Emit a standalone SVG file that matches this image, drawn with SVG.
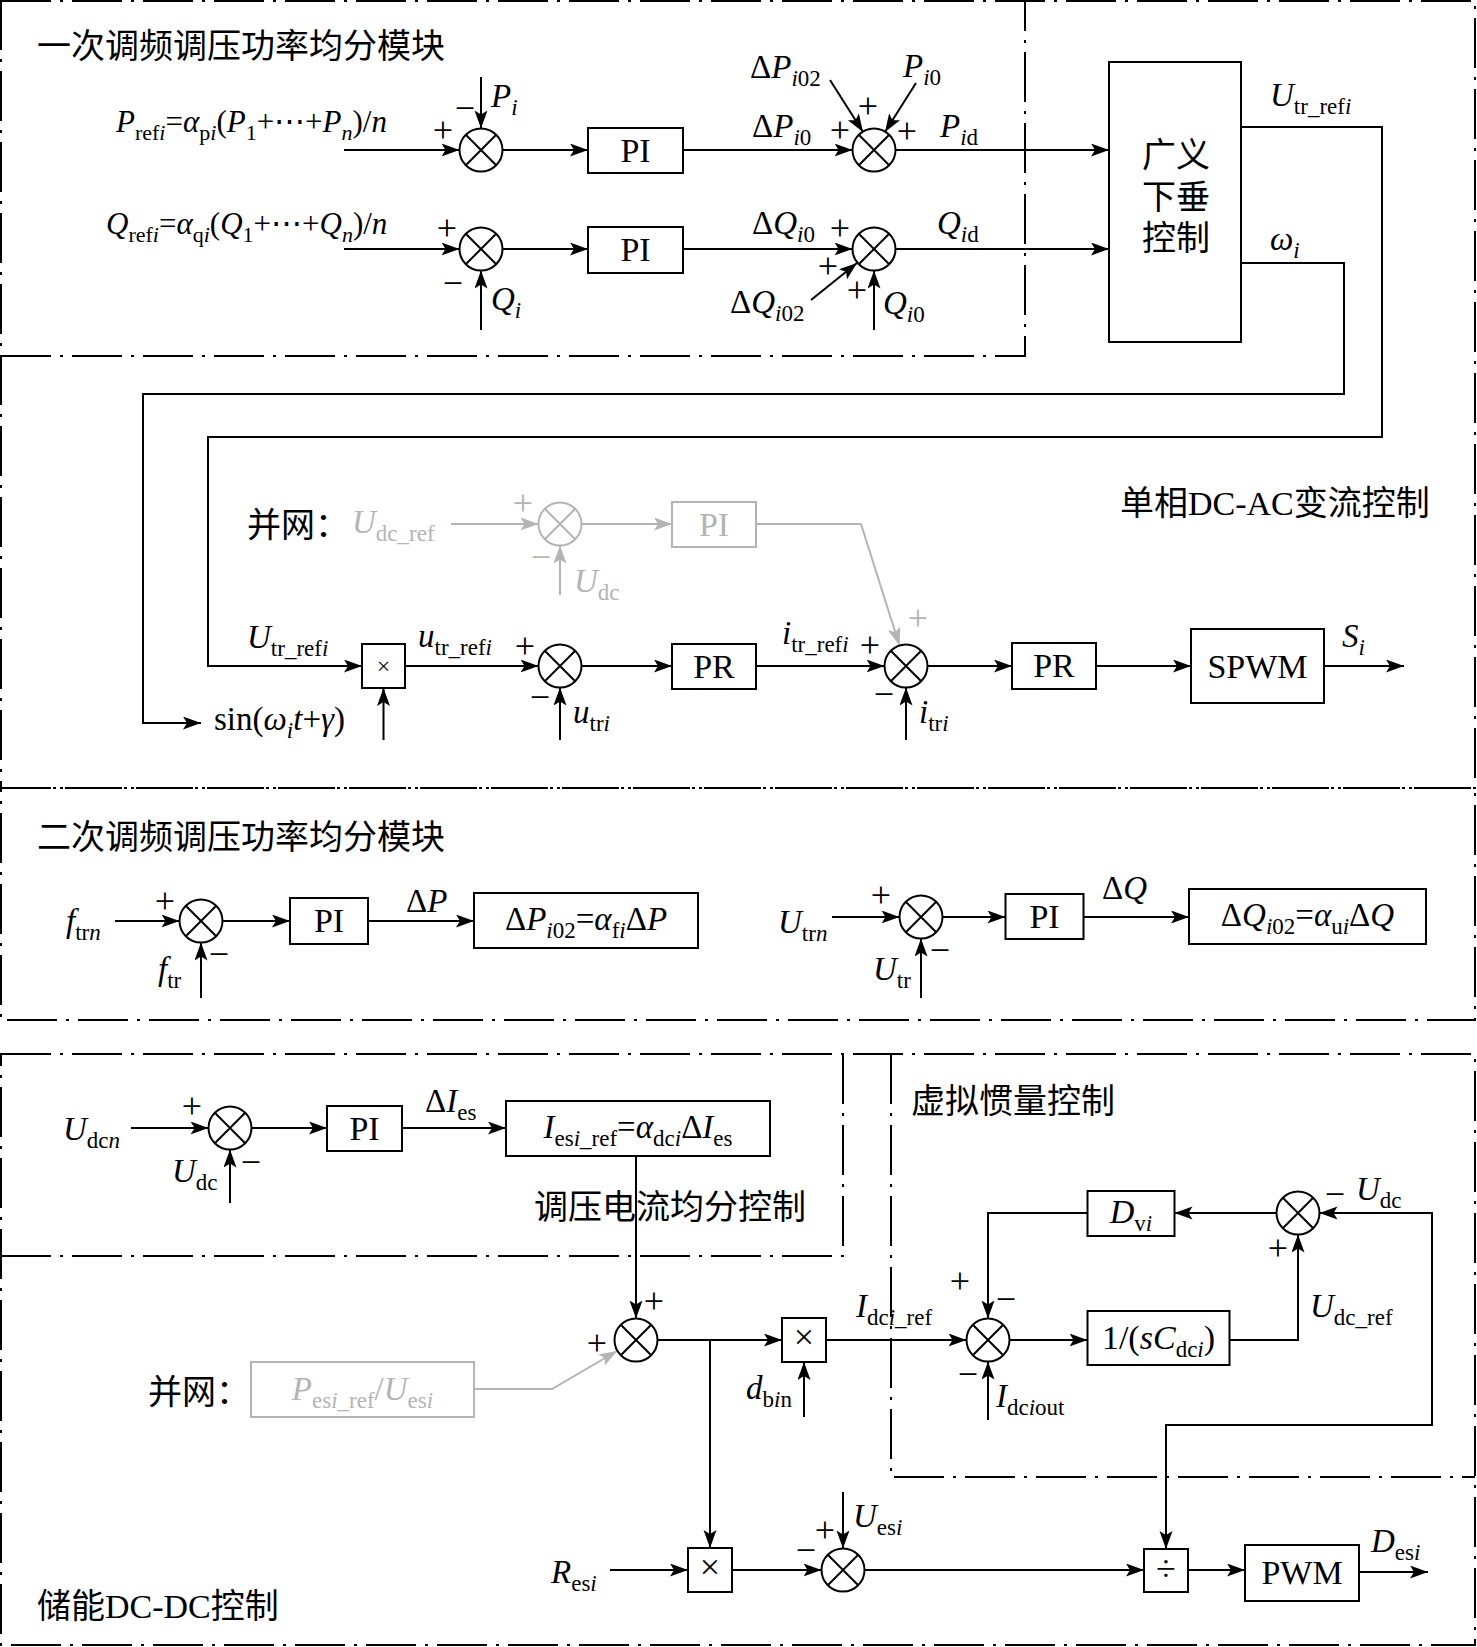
<svg xmlns="http://www.w3.org/2000/svg" width="1477" height="1647" viewBox="0 0 1477 1647">
<style>
.fr{fill:none;stroke:#000;stroke-width:2;stroke-dasharray:50 9 3 9}
.ln{fill:none;stroke:#000;stroke-width:2;marker-end:url(#ah)}
.lg{fill:none;stroke:#b4b4b4;stroke-width:2;marker-end:url(#ahg)}
.bx{fill:#fff;stroke:#000;stroke-width:2}
.bg{fill:#fff;stroke:#b4b4b4;stroke-width:2}
.sjb{stroke:#000;stroke-width:2}
.sjg{stroke:#b4b4b4;stroke-width:2}
text{font-family:"Liberation Serif","DejaVu Serif",serif;font-size:33px;fill:#000}
.cn{font-family:"Noto Sans CJK SC","Noto Sans",sans-serif;font-size:34px}
.lat{font-family:"Liberation Serif",serif}
.bt{font-size:34px;text-anchor:middle}
.eq{font-size:31px}
.i{font-style:italic}
.s{font-size:23px}
.eq .s{font-size:22px}
.sg{font-size:36px;text-anchor:middle}
.g{fill:#b4b4b4}
</style>
<defs>
<marker id="ah" markerWidth="19" markerHeight="14" refX="18" refY="6.5" orient="auto" markerUnits="userSpaceOnUse"><path d="M0,0L18,6.5L0,13L4,6.5z" fill="#000"/></marker>
<marker id="ahg" markerWidth="19" markerHeight="14" refX="18" refY="6.5" orient="auto" markerUnits="userSpaceOnUse"><path d="M0,0L18,6.5L0,13L4,6.5z" fill="#b4b4b4"/></marker>
<marker id="ahr" markerWidth="19" markerHeight="14" refX="18" refY="6.5" orient="auto-start-reverse" markerUnits="userSpaceOnUse"><path d="M0,0L18,6.5L0,13L4,6.5z" fill="#000"/></marker>
<g id="sj"><circle r="21.5" fill="#fff"/><path d="M-15.2,-15.2L15.2,15.2M15.2,-15.2L-15.2,15.2" fill="none"/></g>
</defs>
<rect width="1477" height="1647" fill="#fff"/>

<g id="frames">
<rect class="fr" x="1" y="1" width="1474" height="787"/>
<path class="fr" d="M1,356H1025V1"/>
<rect class="fr" x="1" y="788" width="1474" height="232"/>
<rect class="fr" x="1" y="1054" width="1474" height="591"/>
<path class="fr" d="M1,1256H843V1054"/>
<path class="fr" d="M891,1054V1477H1475"/>
</g>

<g id="connectors">
<path class="ln" d="M344,150H459.5"/>
<path class="ln" d="M481,77V128.5"/>
<path class="ln" d="M502.5,150H588"/>
<path class="ln" d="M683,150H852.5"/>
<path class="ln" d="M830,80L863,132"/>
<path class="ln" d="M916,83L885,132"/>
<path class="ln" d="M895.5,150H1109"/>
<path class="ln" d="M344,249H459.5"/>
<path class="ln" d="M481,330V270.5"/>
<path class="ln" d="M502.5,249H588"/>
<path class="ln" d="M683,249H852.5"/>
<path class="ln" d="M811,300L857,263"/>
<path class="ln" d="M874,330V270.5"/>
<path class="ln" d="M895.5,249H1109"/>
<path class="ln" d="M1241,127H1382V437H208V666H362"/>
<path class="ln" d="M1241,263H1344V394H143V723H201"/>
<path class="ln" d="M383.5,740V688"/>
<path class="ln" d="M405,666H538.5"/>
<path class="ln" d="M560,740V687.5"/>
<path class="ln" d="M581.5,666H672"/>
<path class="ln" d="M756,666H884.5"/>
<path class="ln" d="M906,740V687.5"/>
<path class="ln" d="M927.5,666H1012"/>
<path class="ln" d="M1096,666H1191"/>
<path class="ln" d="M1324,666H1404"/>
<path class="lg" d="M451,524H538.5"/>
<path class="lg" d="M560,595V545.5"/>
<path class="lg" d="M581.5,524H672"/>
<path class="lg" d="M756,524H861L899.5,645.5"/>
<path class="ln" d="M115,921H179.5"/>
<path class="ln" d="M201,998V942.5"/>
<path class="ln" d="M222.5,921H290"/>
<path class="ln" d="M368,921H474"/>
<path class="ln" d="M832,917H899.5"/>
<path class="ln" d="M921,998V938.5"/>
<path class="ln" d="M942.5,917H1005.5"/>
<path class="ln" d="M1083.5,917H1189"/>
<path class="ln" d="M131,1128H208.5"/>
<path class="ln" d="M230,1203V1149.5"/>
<path class="ln" d="M251.5,1128H327"/>
<path class="ln" d="M402,1128H506"/>
<path class="ln" d="M636,1156V1318.5"/>
<path class="lg" d="M474,1389H552L617,1351"/>
<path class="ln" d="M657.5,1340H782"/>
<path class="ln" d="M804,1417V1362"/>
<path class="ln" d="M710,1340V1548"/>
<path class="ln" d="M610,1570H688"/>
<path class="ln" d="M732,1570H821.5"/>
<path class="ln" d="M843,1492V1548.5"/>
<path class="ln" d="M864.5,1570H1144"/>
<path class="ln" d="M1188,1570H1245"/>
<path class="ln" d="M1359,1572H1428"/>
<path class="ln" d="M826,1340H966.5"/>
<path class="ln" d="M988,1420V1361.5"/>
<path class="ln" d="M1009.5,1340H1087.5"/>
<path class="ln" d="M1229.5,1340H1298V1234.5"/>
<path class="ln" d="M1276.5,1213H1174.5"/>
<path class="ln" d="M1087.5,1213H988V1318.5"/>
<path class="ln" d="M1319.5,1213H1432V1425H1166V1549" style="marker-start:url(#ahr);marker-end:url(#ahr)"/>
</g>

<g id="sum1"><use href="#sj" x="481" y="150" class="sjb"/></g>
<g id="sum2"><use href="#sj" x="481" y="249" class="sjb"/></g>
<g id="sum3"><use href="#sj" x="874" y="150" class="sjb"/></g>
<g id="sum4"><use href="#sj" x="874" y="249" class="sjb"/></g>
<g id="pi1"><rect class="bx" x="588" y="128" width="95" height="45"/><text class="bt" x="635.5" y="162">PI</text></g>
<g id="pi2"><rect class="bx" x="588" y="227" width="95" height="46"/><text class="bt" x="635.5" y="261">PI</text></g>
<g id="droop"><rect class="bx" x="1109" y="62" width="132" height="280"/>
<text class="cn" text-anchor="middle"><tspan x="1176" y="167">广义</tspan><tspan x="1176" y="209">下垂</tspan><tspan x="1176" y="250">控制</tspan></text></g>

<g id="mult1"><rect class="bx" x="362" y="644" width="43" height="44"/><text x="383.5" y="674" text-anchor="middle" style="font-size:24px">×</text></g>
<g id="sum5"><use href="#sj" x="560" y="666" class="sjb"/></g>
<g id="pr1"><rect class="bx" x="672" y="644" width="84" height="45"/><text class="bt" x="714" y="678">PR</text></g>
<g id="sum6"><use href="#sj" x="906" y="666" class="sjb"/></g>
<g id="pr2"><rect class="bx" x="1012" y="643" width="84" height="46"/><text class="bt" x="1054" y="677">PR</text></g>
<g id="spwm"><rect class="bx" x="1191" y="629" width="133" height="74"/><text class="bt" x="1257.5" y="678">SPWM</text></g>
<g id="sumg"><use href="#sj" x="560" y="524" class="sjg"/></g>
<g id="pig"><rect class="bg" x="672" y="502" width="84" height="45"/><text class="bt g" x="714" y="536">PI</text></g>

<g id="sum8"><use href="#sj" x="201" y="921" class="sjb"/></g>
<g id="pi3"><rect class="bx" x="290" y="898" width="78" height="46"/><text class="bt" x="329" y="932">PI</text></g>
<g id="boxdp"><rect class="bx" x="474" y="893" width="224" height="55"/>
<text x="586" y="930" text-anchor="middle">Δ<tspan class="i">P</tspan><tspan class="s" dy="8"><tspan class="i">i</tspan>02</tspan><tspan dy="-8">=</tspan><tspan class="i">α</tspan><tspan class="s" dy="8">f<tspan class="i">i</tspan></tspan><tspan dy="-8">Δ</tspan><tspan class="i">P</tspan></text></g>
<g id="sum9"><use href="#sj" x="921" y="917" class="sjb"/></g>
<g id="pi4"><rect class="bx" x="1005.5" y="894" width="78" height="45"/><text class="bt" x="1044.5" y="928">PI</text></g>
<g id="boxdq"><rect class="bx" x="1189" y="889" width="237" height="55"/>
<text x="1307.5" y="926" text-anchor="middle">Δ<tspan class="i">Q</tspan><tspan class="s" dy="8"><tspan class="i">i</tspan>02</tspan><tspan dy="-8">=</tspan><tspan class="i">α</tspan><tspan class="s" dy="8">u<tspan class="i">i</tspan></tspan><tspan dy="-8">Δ</tspan><tspan class="i">Q</tspan></text></g>

<g id="sum10"><use href="#sj" x="230" y="1128" class="sjb"/></g>
<g id="pi5"><rect class="bx" x="327" y="1106" width="75" height="45"/><text class="bt" x="364.5" y="1140">PI</text></g>
<g id="boxi"><rect class="bx" x="506" y="1101" width="264" height="55"/>
<text x="638" y="1138" text-anchor="middle"><tspan class="i">I</tspan><tspan class="s" dy="8">es<tspan class="i">i</tspan>_ref</tspan><tspan dy="-8">=</tspan><tspan class="i">α</tspan><tspan class="s" dy="8">dc<tspan class="i">i</tspan></tspan><tspan dy="-8">Δ</tspan><tspan class="i">I</tspan><tspan class="s" dy="8">es</tspan></text></g>
<g id="sum11"><use href="#sj" x="636" y="1340" class="sjb"/></g>
<g id="boxg"><rect class="bg" x="251" y="1362" width="223" height="55"/>
<text class="g" x="362.5" y="1400" text-anchor="middle"><tspan class="i">P</tspan><tspan class="s" dy="8">es<tspan class="i">i</tspan>_ref</tspan><tspan dy="-8">/</tspan><tspan class="i">U</tspan><tspan class="s" dy="8">es<tspan class="i">i</tspan></tspan></text></g>
<g id="mult2"><rect class="bx" x="782" y="1318" width="44" height="44"/><text x="804" y="1349" text-anchor="middle" style="font-size:36px">×</text></g>
<g id="mult3"><rect class="bx" x="688" y="1548" width="44" height="44"/><text x="710" y="1579" text-anchor="middle" style="font-size:36px">×</text></g>
<g id="sum12"><use href="#sj" x="843" y="1570" class="sjb"/></g>
<g id="div"><rect class="bx" x="1144" y="1549" width="44" height="43"/><text x="1166" y="1581" text-anchor="middle" style="font-size:36px">÷</text></g>
<g id="pwm"><rect class="bx" x="1245" y="1545" width="114" height="56"/><text class="bt" x="1302" y="1584">PWM</text></g>
<g id="sum13"><use href="#sj" x="988" y="1340" class="sjb"/></g>
<g id="boxc"><rect class="bx" x="1087.5" y="1311" width="142" height="54"/>
<text x="1158.5" y="1349" text-anchor="middle" style="font-size:34px">1/(<tspan class="i">sC</tspan><tspan class="s" dy="8">dc<tspan class="i">i</tspan></tspan><tspan dy="-8">)</tspan></text></g>
<g id="sum14"><use href="#sj" x="1298" y="1213" class="sjb"/></g>
<g id="dvi"><rect class="bx" x="1087.5" y="1191" width="87" height="45"/>
<text x="1131" y="1223" text-anchor="middle" style="font-size:34px"><tspan class="i">D</tspan><tspan class="s" dy="8">v<tspan class="i">i</tspan></tspan></text></g>

<g id="labels">
<text class="cn" x="37" y="58">一次调频调压功率均分模块</text>
<text class="eq" x="116" y="132"><tspan class="i">P</tspan><tspan class="s" dy="8">ref<tspan class="i">i</tspan></tspan><tspan dy="-8">=</tspan><tspan class="i">α</tspan><tspan class="s" dy="8">p<tspan class="i">i</tspan></tspan><tspan dy="-8">(</tspan><tspan class="i">P</tspan><tspan class="s" dy="8">1</tspan><tspan dy="-8">+⋯+</tspan><tspan class="i">P</tspan><tspan class="s i" dy="8">n</tspan><tspan dy="-8">)/</tspan><tspan class="i">n</tspan></text>
<text class="eq" x="106" y="234"><tspan class="i">Q</tspan><tspan class="s" dy="8">ref<tspan class="i">i</tspan></tspan><tspan dy="-8">=</tspan><tspan class="i">α</tspan><tspan class="s" dy="8">q<tspan class="i">i</tspan></tspan><tspan dy="-8">(</tspan><tspan class="i">Q</tspan><tspan class="s" dy="8">1</tspan><tspan dy="-8">+⋯+</tspan><tspan class="i">Q</tspan><tspan class="s i" dy="8">n</tspan><tspan dy="-8">)/</tspan><tspan class="i">n</tspan></text>
<text x="491" y="107"><tspan class="i">P</tspan><tspan class="s i" dy="8">i</tspan></text>
<text x="491" y="310"><tspan class="i">Q</tspan><tspan class="s i" dy="8">i</tspan></text>
<text x="752" y="137">Δ<tspan class="i">P</tspan><tspan class="s" dy="8"><tspan class="i">i</tspan>0</tspan></text>
<text x="750" y="78">Δ<tspan class="i">P</tspan><tspan class="s" dy="8"><tspan class="i">i</tspan>02</tspan></text>
<text x="903" y="77"><tspan class="i">P</tspan><tspan class="s" dy="8"><tspan class="i">i</tspan>0</tspan></text>
<text x="940" y="137"><tspan class="i">P</tspan><tspan class="s" dy="8"><tspan class="i">i</tspan>d</tspan></text>
<text x="752" y="234">Δ<tspan class="i">Q</tspan><tspan class="s" dy="8"><tspan class="i">i</tspan>0</tspan></text>
<text x="730" y="313">Δ<tspan class="i">Q</tspan><tspan class="s" dy="8"><tspan class="i">i</tspan>02</tspan></text>
<text x="883" y="314"><tspan class="i">Q</tspan><tspan class="s" dy="8"><tspan class="i">i</tspan>0</tspan></text>
<text x="937" y="234"><tspan class="i">Q</tspan><tspan class="s" dy="8"><tspan class="i">i</tspan>d</tspan></text>
<text x="1270" y="106"><tspan class="i">U</tspan><tspan class="s" dy="8">tr_ref<tspan class="i">i</tspan></tspan></text>
<text x="1270" y="250"><tspan class="i">ω</tspan><tspan class="s i" dy="8">i</tspan></text>
<text class="sg" x="443" y="142">+</text>
<text class="sg" x="465" y="120">−</text>
<text class="sg" x="447" y="240">+</text>
<text class="sg" x="453" y="295">−</text>
<text class="sg" x="840" y="142">+</text>
<text class="sg" x="868" y="118">+</text>
<text class="sg" x="907" y="143">+</text>
<text class="sg" x="840" y="240">+</text>
<text class="sg" x="828" y="278">+</text>
<text class="sg" x="857" y="302">+</text>

<text class="cn" x="1120" y="515">单相<tspan class="lat">DC-AC</tspan>变流控制</text>
<text class="cn" x="247" y="537">并网：</text>
<text class="g" x="352" y="533"><tspan class="i">U</tspan><tspan class="s" dy="8">dc_ref</tspan></text>
<text class="g" x="574" y="592"><tspan class="i">U</tspan><tspan class="s" dy="8">dc</tspan></text>
<text class="sg g" x="523" y="515">+</text>
<text class="sg g" x="541" y="569">−</text>
<text class="sg g" x="918" y="630">+</text>
<text x="247" y="648"><tspan class="i">U</tspan><tspan class="s" dy="8">tr_ref<tspan class="i">i</tspan></tspan></text>
<text x="214" y="730">sin(<tspan class="i">ω</tspan><tspan class="s i" dy="8">i</tspan><tspan class="i" dy="-8">t</tspan>+<tspan class="i">γ</tspan>)</text>
<text x="418" y="647"><tspan class="i">u</tspan><tspan class="s" dy="8">tr_ref<tspan class="i">i</tspan></tspan></text>
<text x="573" y="723"><tspan class="i">u</tspan><tspan class="s" dy="8">tr<tspan class="i">i</tspan></tspan></text>
<text x="782" y="644"><tspan class="i">i</tspan><tspan class="s" dy="8">tr_ref<tspan class="i">i</tspan></tspan></text>
<text x="919" y="723"><tspan class="i">i</tspan><tspan class="s" dy="8">tr<tspan class="i">i</tspan></tspan></text>
<text x="1342" y="647"><tspan class="i">S</tspan><tspan class="s i" dy="8">i</tspan></text>
<text class="sg" x="525" y="658">+</text>
<text class="sg" x="540" y="709">−</text>
<text class="sg" x="870" y="657">+</text>
<text class="sg" x="884" y="706">−</text>

<text class="cn" x="37" y="849">二次调频调压功率均分模块</text>
<text x="66" y="932"><tspan class="i">f</tspan><tspan class="s" dy="8">tr<tspan class="i">n</tspan></tspan></text>
<text x="158" y="980"><tspan class="i">f</tspan><tspan class="s" dy="8">tr</tspan></text>
<text x="406" y="912">Δ<tspan class="i">P</tspan></text>
<text class="sg" x="165" y="913">+</text>
<text class="sg" x="219" y="966">−</text>
<text x="778" y="933"><tspan class="i">U</tspan><tspan class="s" dy="8">tr<tspan class="i">n</tspan></tspan></text>
<text x="873" y="980"><tspan class="i">U</tspan><tspan class="s" dy="8">tr</tspan></text>
<text x="1102" y="899">Δ<tspan class="i">Q</tspan></text>
<text class="sg" x="881" y="907">+</text>
<text class="sg" x="940" y="962">−</text>

<text x="63" y="1140"><tspan class="i">U</tspan><tspan class="s" dy="8">dc<tspan class="i">n</tspan></tspan></text>
<text x="172" y="1182"><tspan class="i">U</tspan><tspan class="s" dy="8">dc</tspan></text>
<text x="425" y="1112">Δ<tspan class="i">I</tspan><tspan class="s" dy="8">es</tspan></text>
<text class="sg" x="192" y="1118">+</text>
<text class="sg" x="251" y="1174">−</text>
<text class="cn" x="534" y="1219">调压电流均分控制</text>
<text class="cn" x="148" y="1404">并网：</text>
<text class="sg" x="654" y="1313">+</text>
<text class="sg" x="597" y="1355">+</text>
<text x="856" y="1317"><tspan class="i">I</tspan><tspan class="s" dy="8">dc<tspan class="i">i</tspan>_ref</tspan></text>
<text x="746" y="1399"><tspan class="i">d</tspan><tspan class="s" dy="8">b<tspan class="i">i</tspan>n</tspan></text>
<text x="996" y="1407"><tspan class="i">I</tspan><tspan class="s" dy="8">dc<tspan class="i">i</tspan>out</tspan></text>
<text x="1310" y="1317"><tspan class="i">U</tspan><tspan class="s" dy="8">dc_ref</tspan></text>
<text x="1356" y="1200"><tspan class="i">U</tspan><tspan class="s" dy="8">dc</tspan></text>
<text class="cn" x="911" y="1113">虚拟惯量控制</text>
<text class="sg" x="960" y="1293">+</text>
<text class="sg" x="1006" y="1311">−</text>
<text class="sg" x="968" y="1386">−</text>
<text class="sg" x="1278" y="1260">+</text>
<text class="sg" x="1335" y="1206">−</text>
<text x="551" y="1583"><tspan class="i">R</tspan><tspan class="s" dy="8">es<tspan class="i">i</tspan></tspan></text>
<text x="853" y="1527"><tspan class="i">U</tspan><tspan class="s" dy="8">es<tspan class="i">i</tspan></tspan></text>
<text x="1371" y="1552"><tspan class="i">D</tspan><tspan class="s" dy="8">es<tspan class="i">i</tspan></tspan></text>
<text class="sg" x="825" y="1542">+</text>
<text class="sg" x="806" y="1562">−</text>
<text class="cn" x="37" y="1618">储能<tspan class="lat">DC-DC</tspan>控制</text>
</g>
</svg>
